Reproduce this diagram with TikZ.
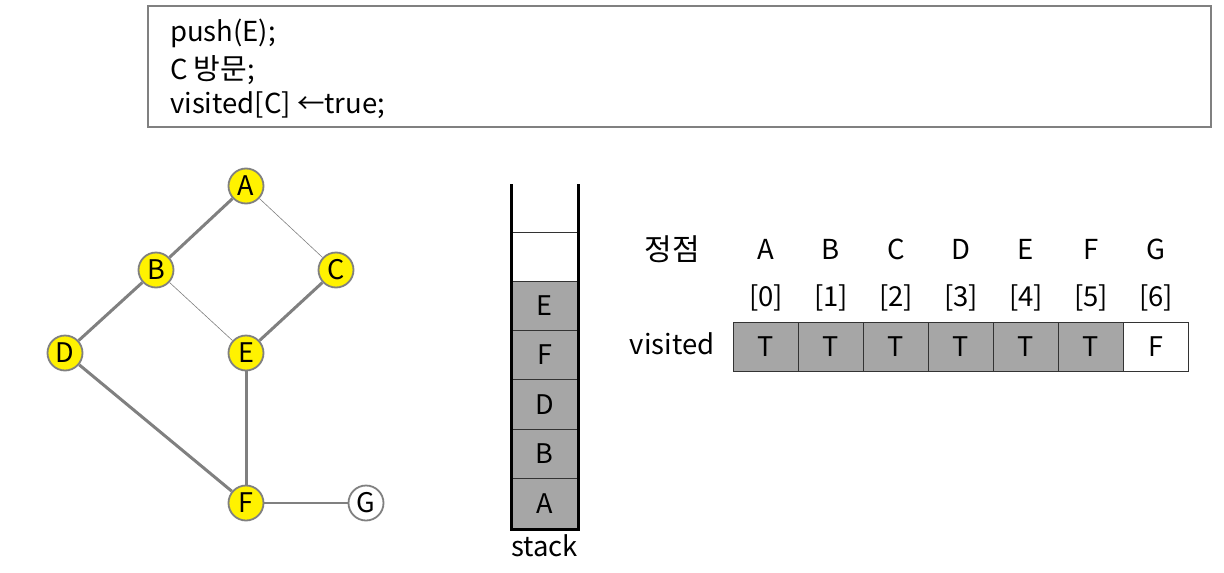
\documentclass[tikz,border=0pt]{standalone}
\usepackage{fontspec}
\setmainfont{Noto Sans CJK KR}
\usetikzlibrary{positioning}

\tikzset{
	txt/.style = {font=\fontsize{27.5}{30}\selectfont, inner sep=0pt},
	ko/.style = {font=\fontsize{30}{32}\selectfont, inner sep=0pt},
	vertex/.style = {circle, draw=gray, line width=1.8pt, fill=yellow, minimum size=35pt, inner sep=0pt, font=\fontsize{27}{28}\selectfont},
	tree/.style = {draw=gray, line width=3pt},
	back/.style = {draw=gray, line width=0.6pt},
	cell/.style = {draw=black!80, line width=0.8pt, fill=black!35, minimum width=65pt, minimum height=49pt, inner sep=0pt, font=\fontsize{27}{28}\selectfont},
	slot/.style = {draw=black!80, line width=0.8pt, fill=black!35, minimum width=67pt, minimum height=49.5pt, inner sep=0pt, font=\fontsize{27}{28}\selectfont}
}

\begin{document}
\begin{tikzpicture}[x=1pt, y=-1pt]
	\useasboundingbox (0, 0) rectangle (1224, 573);
	% code box
	\draw[gray, line width=1.5pt] (148, 6) rectangle (1211, 127);
	\node[txt, anchor=west] (line1) at (170, 33) {push(E);};
	\node[txt, anchor=west] (line2) at (170, 70) {C\ {\fontsize{29}{30}\selectfont 방문};};
	\node[txt, anchor=west] (line3) at (170, 105) {visited[C] ←true;};
	% graph
	\node[vertex] (A) at (246, 186) {A};
	\node[vertex] (B) at (156, 270) {B};
	\node[vertex] (C) at (336, 270) {C};
	\node[vertex] (D) at (65, 353) {D};
	\node[vertex] (E) at (246, 353) {E};
	\node[vertex] (F) at (246, 503) {F};
	\node[vertex, fill=white] (G) at (366, 503) {G};
	\draw[tree] (A) -- (B);
	\draw[back] (A) -- (C);
	\draw[tree] (B) -- (D);
	\draw[back] (B) -- (E);
	\draw[tree] (C) -- (E);
	\draw[tree] (D) -- (F);
	\draw[tree] (E) -- (F);
	\draw[gray, line width=1.2pt] (F) -- (G);
	% stack
	\foreach \v [count=\i] in {A, B, D, F, E}
		\node[slot] (s\i) at (544.5, 528 - 24.75 - 49.5*\i + 49.5) {\v};
	\node[slot, fill=white] (s6) at (544.5, 257) {};
	\draw[line width=3pt] (511, 184) -- (511, 529.5) -- (578, 529.5) -- (578, 184);
	\node[txt, below=6pt of s1] (stk) {stack};
	% visited table
	\node[ko] (head) at (672, 249) {정점};
	\node[txt] (vis) at (672, 344) {visited};
	\foreach \v [count=\i from 0] in {A, B, C, D, E, F, G} {
		\node[txt] (h\i) at (766 + 65*\i, 249) {\v};
		\node[txt] (n\i) at (766 + 65*\i, 298) {[\i]};
	}
	\foreach \t [count=\i from 0] in {T, T, T, T, T, T} 
		\node[cell] (c\i) at (766 + 65*\i, 346.5) {\t};
	\node[cell, fill=white] (c6) at (1156, 346.5) {F};
\end{tikzpicture}
\end{document}
